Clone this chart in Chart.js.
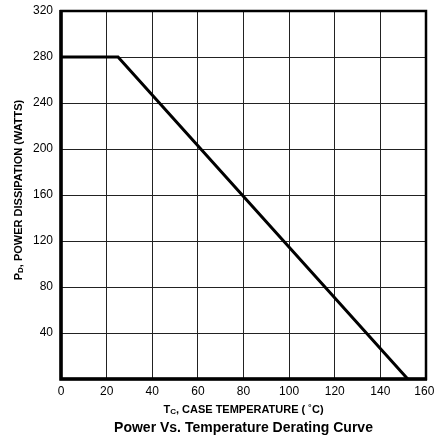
<!DOCTYPE html>
<html>
<head>
<meta charset="utf-8">
<script src="https://cdn.jsdelivr.net/npm/chart.js@4"></script>
<style>
  html, body { margin: 0; padding: 0; background: #fff; }
  #wrap { width: 435px; height: 438px; }
</style>
</head>
<body>
<div id="wrap"><canvas id="derating"></canvas></div>
<script>
// case temperature (deg C) and power dissipation (W)
const tempC = [0, 25, 152];
const powerW = [280, 280, 0];
const xTicks = [0, 20, 40, 60, 80, 100, 120, 140, 160];
const yTicks = [40, 80, 120, 160, 200, 240, 280, 320];

const FONT = '"Liberation Sans", Arial, sans-serif';

// axis titles with subscripts, and the caption under the chart
const titles = {
  id: 'titles',
  afterDraw(chart) {
    const c = chart.ctx;
    const a = chart.chartArea;
    c.save();

    // frame: heavier left/bottom
    c.strokeStyle = '#000';
    c.lineWidth = 2.5;
    c.strokeRect(a.left, a.top, a.right - a.left, a.bottom - a.top);
    c.lineWidth = 3.5;
    c.beginPath();
    c.moveTo(a.left, a.top - 1);
    c.lineTo(a.left, a.bottom);
    c.lineTo(a.right + 1, a.bottom);
    c.stroke();

    c.fillStyle = '#000';
    c.textBaseline = 'middle';

    function subText(parts, x, y) {
      // parts: [text, size, dy]
      let w = 0;
      parts.forEach(p => { c.font = 'bold ' + p[1] + 'px ' + FONT; w += c.measureText(p[0]).width; });
      let cx = x - w / 2;
      c.textAlign = 'left';
      parts.forEach(p => {
        c.font = 'bold ' + p[1] + 'px ' + FONT;
        c.fillText(p[0], cx, y + p[2]);
        cx += c.measureText(p[0]).width;
      });
    }

    const midX = (a.left + a.right) / 2;
    subText([['T', 11, 0], ['C', 8, 2], [', CASE TEMPERATURE ( \u02DAC)', 11, 0]], midX, 410);

    c.save();
    c.translate(19, 190);
    c.rotate(-Math.PI / 2);
    subText([['P', 11, 0], ['D', 8, 2], [', POWER DISSIPATION (WATTS)', 11, 0]], 0, 0);
    c.restore();

    c.font = 'bold 14px ' + FONT;
    c.textAlign = 'center';
    c.fillText('Power Vs. Temperature Derating Curve', midX, 428);

    c.restore();
  }
};

new Chart(document.getElementById('derating'), {
  type: 'line',
  data: {
    datasets: [{
      data: tempC.map((t, i) => ({ x: t, y: powerW[i] })),
      borderColor: '#000',
      borderWidth: 3,
      pointRadius: 0,
      tension: 0,
      fill: false
    }]
  },
  options: {
    responsive: true,
    maintainAspectRatio: false,
    animation: false,
    layout: { padding: { top: 11, right: 9, left: 0, bottom: 0 } },
    plugins: { legend: { display: false }, tooltip: { enabled: false } },
    scales: {
      x: {
        type: 'linear',
        min: 0,
        max: 160,
        afterBuildTicks: s => { s.ticks = xTicks.map(v => ({ value: v })); },
        afterFit: s => { s.height = 59; s.paddingLeft = 0; s.paddingRight = 0; },
        grid: { color: '#222', lineWidth: 1, drawTicks: false },
        border: { display: false },
        ticks: {
          color: '#000',
          padding: 5,
          font: { family: FONT, size: 12 },
          maxRotation: 0,
          // keep the last label inside the window
          callback: v => (v === 160 ? v + ' ' : v)
        }
      },
      y: {
        min: 0,
        max: 320,
        afterBuildTicks: s => { s.ticks = [0].concat(yTicks).map(v => ({ value: v })); },
        afterFit: s => { s.width = 61; s.paddingTop = 0; s.paddingBottom = 0; },
        grid: { color: '#222', lineWidth: 1, drawTicks: false },
        border: { display: false },
        ticks: {
          color: '#000',
          padding: 8,
          font: { family: FONT, size: 12 },
          callback: v => (v === 0 ? '' : v)
        }
      }
    }
  },
  plugins: [titles]
});
</script>
</body>
</html>
